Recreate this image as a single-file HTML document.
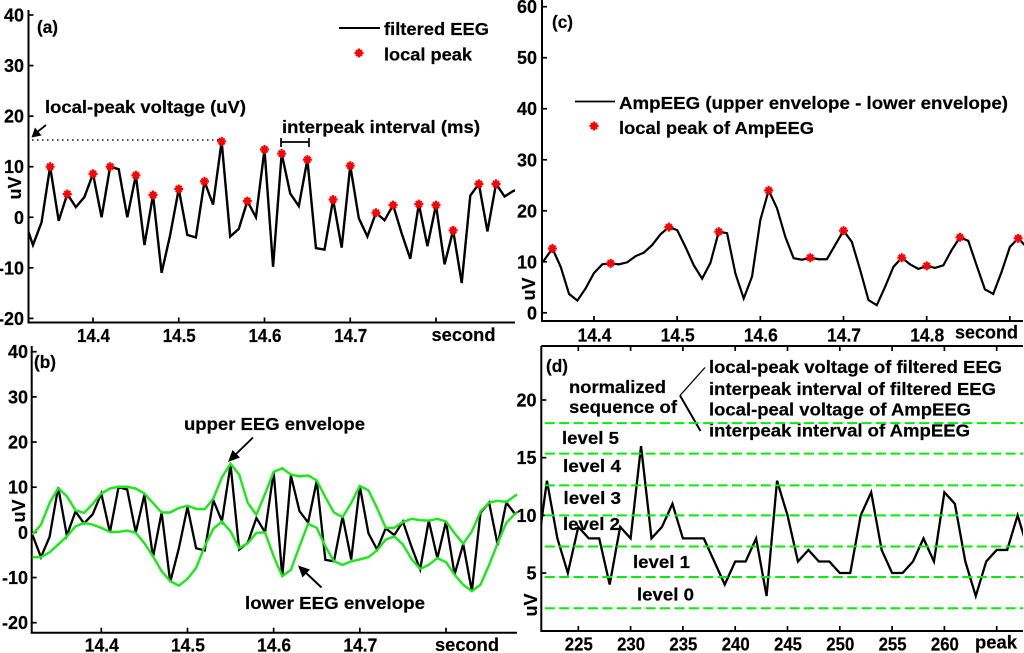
<!DOCTYPE html>
<html lang="en">
<head>
<meta charset="utf-8">
<title>EEG peak sequence figure</title>
<style>
html,body{margin:0;padding:0;background:#fff;}
svg{display:block;font-family:"Liberation Sans",Arial,sans-serif;font-weight:bold;fill:#000;}
text{font-size:17.5px;stroke:#000;stroke-width:0.2;}
.tk{font-size:18px;}
</style>
</head>
<body>
<svg id="figure" xmlns="http://www.w3.org/2000/svg" width="1024" height="653" viewBox="0 0 1024 653">
<rect x="0" y="0" width="1024" height="653" fill="#fff"/>

<g>
  <text x="37" y="33" textLength="21" lengthAdjust="spacingAndGlyphs">(a)</text>
  <line x1="339" y1="28" x2="380" y2="28" stroke="#000" stroke-width="2"/>
  <text x="384" y="35" textLength="105" lengthAdjust="spacingAndGlyphs">filtered EEG</text>
  <path d="M354.5 53H363.5M359 48.5V57.5M356 50L362 56M362 50L356 56" stroke="#f00" stroke-width="2.2" fill="none"/>
  <text x="384" y="60.5" textLength="88" lengthAdjust="spacingAndGlyphs">local peak</text>
  <text x="45" y="113" textLength="201" lengthAdjust="spacingAndGlyphs">local-peak voltage (uV)</text>
  <line x1="32" y1="140" x2="220" y2="140" stroke="#111" stroke-width="1.4" stroke-dasharray="1.5 3.5"/>
  <line x1="46" y1="125" x2="36" y2="133" stroke="#000" stroke-width="1.8"/>
  <polygon points="31.5,137.5 35,127.5 41.5,135.5" fill="#000"/>
  <text x="282" y="133" textLength="198" lengthAdjust="spacingAndGlyphs">interpeak interval (ms)</text>
  <path d="M281 138V147M281 142H309M309 138V147" stroke="#000" stroke-width="1.7" fill="none"/>
</g>

<g>
  <text x="34" y="368" textLength="22" lengthAdjust="spacingAndGlyphs">(b)</text>
  <text x="184" y="430" textLength="181" lengthAdjust="spacingAndGlyphs">upper EEG envelope</text>
  <line x1="253" y1="437.5" x2="234" y2="456" stroke="#000" stroke-width="1.9"/>
  <polygon points="228,462 232.5,450 240,457.5" fill="#000"/>
  <text x="245" y="609" textLength="180" lengthAdjust="spacingAndGlyphs">lower EEG envelope</text>
  <line x1="321.5" y1="587.5" x2="304" y2="571" stroke="#000" stroke-width="1.9"/>
  <polygon points="298,565.5 310,569.5 302.5,577.5" fill="#000"/>
</g>

<g>
  <text x="552" y="28" textLength="21" lengthAdjust="spacingAndGlyphs">(c)</text>
  <line x1="575" y1="101.5" x2="615" y2="101.5" stroke="#000" stroke-width="1.8"/>
  <text x="619" y="109" textLength="389" lengthAdjust="spacingAndGlyphs">AmpEEG (upper envelope - lower envelope)</text>
  <path d="M589.5 126H598.5M594 121.5V130.5M591 123L597 129M597 123L591 129" stroke="#f00" stroke-width="2.2" fill="none"/>
  <text x="619" y="134" textLength="195" lengthAdjust="spacingAndGlyphs">local peak of AmpEEG</text>
</g>

<g>
  <text x="546" y="372" textLength="22" lengthAdjust="spacingAndGlyphs">(d)</text>
  <text x="569" y="393" textLength="97" lengthAdjust="spacingAndGlyphs">normalized</text>
  <text x="569" y="413" textLength="108" lengthAdjust="spacingAndGlyphs">sequence of</text>
  <path d="M705 367.5L680 395.5" stroke="#000" stroke-width="1.3" fill="none"/>
  <path d="M680 395.5L700.5 431" stroke="#000" stroke-width="2" fill="none"/>
  <text x="709" y="373" textLength="293" lengthAdjust="spacingAndGlyphs">local-peak voltage of filtered EEG</text>
  <text x="709" y="395" textLength="287" lengthAdjust="spacingAndGlyphs">interpeak interval of filtered EEG</text>
  <text x="709" y="415.5" textLength="262" lengthAdjust="spacingAndGlyphs">local-peal voltage of AmpEEG</text>
  <text x="709" y="436.5" textLength="261" lengthAdjust="spacingAndGlyphs">interpeak interval of AmpEEG</text>
  <text x="562" y="444" textLength="57" lengthAdjust="spacingAndGlyphs">level 5</text>
  <text x="563" y="472" textLength="58" lengthAdjust="spacingAndGlyphs">level 4</text>
  <text x="563.5" y="504" textLength="57.5" lengthAdjust="spacingAndGlyphs">level 3</text>
  <text x="563" y="530" textLength="57" lengthAdjust="spacingAndGlyphs">level 2</text>
  <text x="633" y="568" textLength="57" lengthAdjust="spacingAndGlyphs">level 1</text>
  <text x="637" y="600.5" textLength="57" lengthAdjust="spacingAndGlyphs">level 0</text>
</g>
</svg>

<script>
// ---- chart data ----
const eegTimes = [14.32,14.33,14.34,14.35,14.36,14.37,14.38,14.39,14.40,14.41,14.42,14.43,14.44,14.45,14.46,14.47,14.48,14.49,14.50,14.51,14.52,14.53,14.54,14.55,14.56,14.57,14.58,14.59,14.60,14.61,14.62,14.63,14.64,14.65,14.66,14.67,14.68,14.69,14.70,14.71,14.72,14.73,14.74,14.75,14.76,14.77,14.78,14.79,14.80,14.81,14.82,14.83,14.84,14.85,14.86,14.87,14.88,14.89,14.90];
const filteredEeg = [-0.5,-5.5,-1,10,-0.7,4.6,2,4,8.6,0,10,9.5,0,8.3,-5.5,4.4,-11,-3.5,5.6,-3.5,-4,7.1,2.5,15,-3.8,-2.3,3.2,0,13.4,-9.8,12.6,4.7,2.2,11.4,-6.1,-6.4,3.5,-6,10.2,-0.2,-3.8,0.9,-0.6,2.4,-3.2,-8.2,2.6,-5.7,2.4,-9.3,-2.6,-13,4.3,6.6,-2.8,6.6,4.1,5.2,5.6];
const upperEnvelope = [-0.5,1.7,6.5,9.8,8,4.9,4.3,6.3,8.6,9.7,10.1,10.1,9.7,8.6,6.5,4.4,4.4,5.4,5.9,5.2,5.1,7.5,12.2,15.2,12.8,6.5,3.9,8.5,13.4,14.2,12.8,12.4,12.6,11.5,7.8,4.4,3.4,6.5,10.3,9.3,5.4,1,1,2.3,3,2.7,2.6,3,2.4,-0.2,-2.5,0.2,4.6,6.6,7,6.7,8.1,9,9.5];
const lowerEnvelope = [-5.5,-5.5,-4.4,-2.7,-0.9,1.3,2.1,1.7,1,0.1,0.1,0.4,-0.1,-2.4,-5.3,-8.6,-10.8,-11.8,-10.3,-7.9,-3.1,0.8,2.4,0.2,-3.5,-2.4,-0.1,0,-5.3,-9.7,-8.3,-3.1,1.9,1,-3.1,-6.4,-7.2,-6.4,-6,-5.5,-4,-1.6,-0.9,-2.7,-5.9,-8.1,-7.2,-5.7,-6.6,-9.4,-11.6,-13,-11.6,-7.2,-2.4,2.1,4.1,4.8,5.5];
const ampTimes = [14.33,14.34,14.35,14.36,14.37,14.38,14.39,14.40,14.41,14.42,14.43,14.44,14.45,14.46,14.47,14.48,14.49,14.50,14.51,14.52,14.53,14.54,14.55,14.56,14.57,14.58,14.59,14.60,14.61,14.62,14.63,14.64,14.65,14.66,14.67,14.68,14.69,14.70,14.71,14.72,14.73,14.74,14.75,14.76,14.77,14.78,14.79,14.80,14.81,14.82,14.83,14.84,14.85,14.86,14.87,14.88,14.89,14.90,14.91,14.92];
const ampEeg = [8.5,10.3,12.6,9,3.7,2.4,4.8,7.8,9.5,9.7,9.5,9.9,11.1,11.8,13.3,15.4,16.8,16.2,12.9,9.3,6.7,9.8,15.9,15.6,7.7,2.8,7.1,18.2,24,20.5,14.9,10.7,10.4,10.8,10.5,10.5,13.3,16.1,13.9,8.4,2.5,1.5,5.1,9,10.8,9.5,8.6,9.2,8.8,9.3,12.3,14.8,14.1,9.3,4.6,3.7,8,12.9,14.6,12.9];
const peakNumbers = [221,222,223,224,225,226,227,228,229,230,231,232,233,234,235,236,237,238,239,240,241,242,243,244,245,246,247,248,249,250,251,252,253,254,255,256,257,258,259,260,261,262,263,264,265,266,267,268];
const normalizedSequence = [6.3,13,8,5,9,8,8,4,9,8,16,8,9,11,8,8,8,6,4,6,6,8,3,13,10,6,7,6,6,5,5,10,12,7,5,5,6,8,6,12,11,6,3,6,7,7,10,7];
const levelBoundaries = [1.94,4.65,7.3,10,12.6,15.35,18];
const voltageTicks = [40,30,20,10,0,-10,-20];
const ampVoltageTicks = [60,50,40,30,20,10,0];
const sequenceTicks = [20,15,10,5];
const timeTicksShort = [14.4,14.5,14.6,14.7,14.8];
const timeTickLabelsShort = ['14.4','14.5','14.6','14.7'];
const timeTicksLong = [14.4,14.5,14.6,14.7,14.8,14.9];
const timeTickLabelsLong = ['14.4','14.5','14.6','14.7','14.8'];
const peakTicks = [225,230,235,240,245,250,255,260,265];
const peakTickLabels = ['225','230','235','240','245','250','255','260'];

// ---- helpers ----
const NS = 'http://www.w3.org/2000/svg';
const svg = document.getElementById('figure');
function mk(parent, tag, attrs, txt) {
  const n = document.createElementNS(NS, tag);
  for (const k in attrs) n.setAttribute(k, attrs[k]);
  if (txt !== undefined) n.textContent = txt;
  parent.appendChild(n);
  return n;
}
function linear(d0, d1, p0, p1) {
  return v => p0 + (v - d0) * (p1 - p0) / (d1 - d0);
}
function polyline(parent, xs, ys, sx, sy, stroke, width, clipId) {
  let pts = '';
  for (let i = 0; i < xs.length; i++) pts += sx(xs[i]).toFixed(2) + ',' + sy(ys[i]).toFixed(2) + ' ';
  return mk(parent, 'polyline', {points: pts, fill: 'none', stroke: stroke, 'stroke-width': width, 'stroke-linejoin': 'miter', 'clip-path': 'url(#' + clipId + ')'});
}
function drawStars(parent, xs, ys, sx, sy) {
  for (let i = 1; i < ys.length - 1; i++) {
    if (ys[i] > ys[i - 1] && ys[i] > ys[i + 1]) {
      const cx = sx(xs[i]), cy = sy(ys[i]);
      const d = 'M' + (cx - 4.5) + ' ' + cy + 'H' + (cx + 4.5) + 'M' + cx + ' ' + (cy - 4.5) + 'V' + (cy + 4.5) +
        'M' + (cx - 3) + ' ' + (cy - 3) + 'L' + (cx + 3) + ' ' + (cy + 3) + 'M' + (cx + 3) + ' ' + (cy - 3) + 'L' + (cx - 3) + ' ' + (cy + 3);
      const star = mk(parent, 'path', {d: d, stroke: '#f00', 'stroke-width': 2.2, fill: 'none'});
      
      
    }
  }
}
function drawAxes(parent, o) {
  const yAxis = mk(parent, 'line', {x1: o.left, y1: o.top, x2: o.left, y2: o.bottom + 1, stroke: '#000', 'stroke-width': 2});
  
  
  const xAxis = mk(parent, 'line', {x1: o.left, y1: o.bottom, x2: o.right, y2: o.bottom, stroke: '#000', 'stroke-width': 2});
  
  
  o.yTicks.forEach(v => {
    const t = mk(parent, 'line', {x1: o.left, y1: o.sy(v), x2: o.left + 5, y2: o.sy(v), stroke: '#000', 'stroke-width': 1.7});
    
    
    const l = mk(parent, 'text', {x: o.yLabelEnd, y: o.sy(v) + 6.5, 'text-anchor': 'end', class: 'tk'}, String(v));
    
    
  });
  o.xTicks.forEach((v, i) => {
    const t = mk(parent, 'line', {x1: o.sx(v), y1: o.bottom, x2: o.sx(v), y2: o.bottom - 5, stroke: '#000', 'stroke-width': 1.7});
    
    
    if (o.xLabels[i] !== undefined) {
      const l = mk(parent, 'text', {x: o.sx(v) + 0.5, y: o.xLabelY, 'text-anchor': 'middle', class: 'tk', textLength: o.xLabelWidth, lengthAdjust: 'spacingAndGlyphs'}, o.xLabels[i]);
      
      
    }
  });
  const unit = mk(parent, 'text', {x: o.unitX, y: o.unitY, transform: 'rotate(-90 ' + o.unitX + ' ' + o.unitY + ')', 'text-anchor': 'middle', class: 'tk'}, 'uV');
  
  
  const name = mk(parent, 'text', {x: o.xTitleX, y: o.xTitleY, textLength: o.xTitleW, lengthAdjust: 'spacingAndGlyphs', class: 'tk'}, o.xTitle);
  
  
}
function addClip(id, x, y, w, h) {
  const defs = mk(svg, 'defs', {});
  const cp = mk(defs, 'clipPath', {id: id});
  mk(cp, 'rect', {x: x, y: y, width: w, height: h});
}

// ---- panel (a) ----
(function () {
  const g = mk(svg, 'g', {});
  
  
  const sx = linear(14.4, 14.8, 93, 436), sy = linear(-20, 40, 318.4, 15);
  addClip('clip-a', 28.5, 5, 486.5, 317);
  drawAxes(g, {left: 28.5, right: 515, top: 10, bottom: 322.5, sx: sx, sy: sy, yTicks: voltageTicks, xTicks: timeTicksShort, xLabels: timeTickLabelsShort,
    yLabelEnd: 24, xLabelY: 342, xLabelWidth: 33, unitX: 21, unitY: 188, xTitle: 'second', xTitleX: 431.5, xTitleY: 341, xTitleW: 64});
  const line = polyline(g, eegTimes, filteredEeg, sx, sy, '#000', 2.4, 'clip-a');
  
  
  drawStars(g, eegTimes, filteredEeg, sx, sy);
})();

// ---- panel (b) ----
(function () {
  const g = mk(svg, 'g', {});
  
  
  const sx = linear(14.4, 14.8, 101.3, 446), sy = linear(-20, 40, 622.7, 351.7);
  addClip('clip-b', 31.7, 346, 485.5, 286);
  drawAxes(g, {left: 31.7, right: 517, top: 346, bottom: 632.7, sx: sx, sy: sy, yTicks: voltageTicks, xTicks: timeTicksShort, xLabels: timeTickLabelsShort,
    yLabelEnd: 28, xLabelY: 651.5, xLabelWidth: 34, unitX: 25, unitY: 511, xTitle: 'second', xTitleX: 435, xTitleY: 651, xTitleW: 64});
  const line = polyline(g, eegTimes, filteredEeg, sx, sy, '#000', 2.3, 'clip-b');
  
  
  const up = polyline(g, eegTimes, upperEnvelope, sx, sy, '#18ea18', 2.4, 'clip-b');
  
  
  const low = polyline(g, eegTimes, lowerEnvelope, sx, sy, '#18ea18', 2.4, 'clip-b');
  
  
})();

// ---- panel (c) ----
(function () {
  const g = mk(svg, 'g', {});
  
  
  const sx = linear(14.4, 14.8, 594, 926.7), sy = linear(0, 60, 312.8, 6.7);
  addClip('clip-c', 542, 0, 482, 321);
  drawAxes(g, {left: 542, right: 1023, top: 0, bottom: 321, sx: sx, sy: sy, yTicks: ampVoltageTicks, xTicks: timeTicksLong, xLabels: timeTickLabelsLong,
    yLabelEnd: 537, xLabelY: 341.5, xLabelWidth: 34, unitX: 535, unitY: 289, xTitle: 'second', xTitleX: 955, xTitleY: 338.5, xTitleW: 63});
  const line = polyline(g, ampTimes, ampEeg, sx, sy, '#000', 2.2, 'clip-c');
  
  
  drawStars(g, ampTimes, ampEeg, sx, sy);
})();

// ---- panel (d) ----
(function () {
  const g = mk(svg, 'g', {});
  
  
  const sx = linear(225, 265, 578.3, 996.7), sy = linear(5, 20, 573, 400);
  const left = 541.3, right = 1023, bottom = 631, top = 346;
  addClip('clip-d', left, top, right - left, bottom - top);
  drawAxes(g, {left: left, right: right, top: top, bottom: bottom, sx: sx, sy: sy, yTicks: sequenceTicks, xTicks: peakTicks, xLabels: peakTickLabels,
    yLabelEnd: 536.5, xLabelY: 650.5, xLabelWidth: 28, unitX: 537, unitY: 605, xTitle: 'peak', xTitleX: 975, xTitleY: 648.5, xTitleW: 42});
  const topLine = mk(g, 'line', {x1: left, y1: top, x2: right, y2: top, stroke: '#000', 'stroke-width': 2});
  
  
  peakTicks.forEach(v => {
    const t = mk(g, 'line', {x1: sx(v), y1: top, x2: sx(v), y2: top + 5, stroke: '#000', 'stroke-width': 1.7});
    
    
  });
  const line = polyline(g, peakNumbers, normalizedSequence, sx, sy, '#000', 2.3, 'clip-d');
  
  
  levelBoundaries.forEach(v => {
    const l = mk(g, 'line', {x1: left + 3.5, y1: sy(v), x2: right, y2: sy(v), stroke: '#00f000', 'stroke-width': 2, 'stroke-dasharray': '10 4.4'});
    
    
  });
})();
</script>
</body>
</html>
